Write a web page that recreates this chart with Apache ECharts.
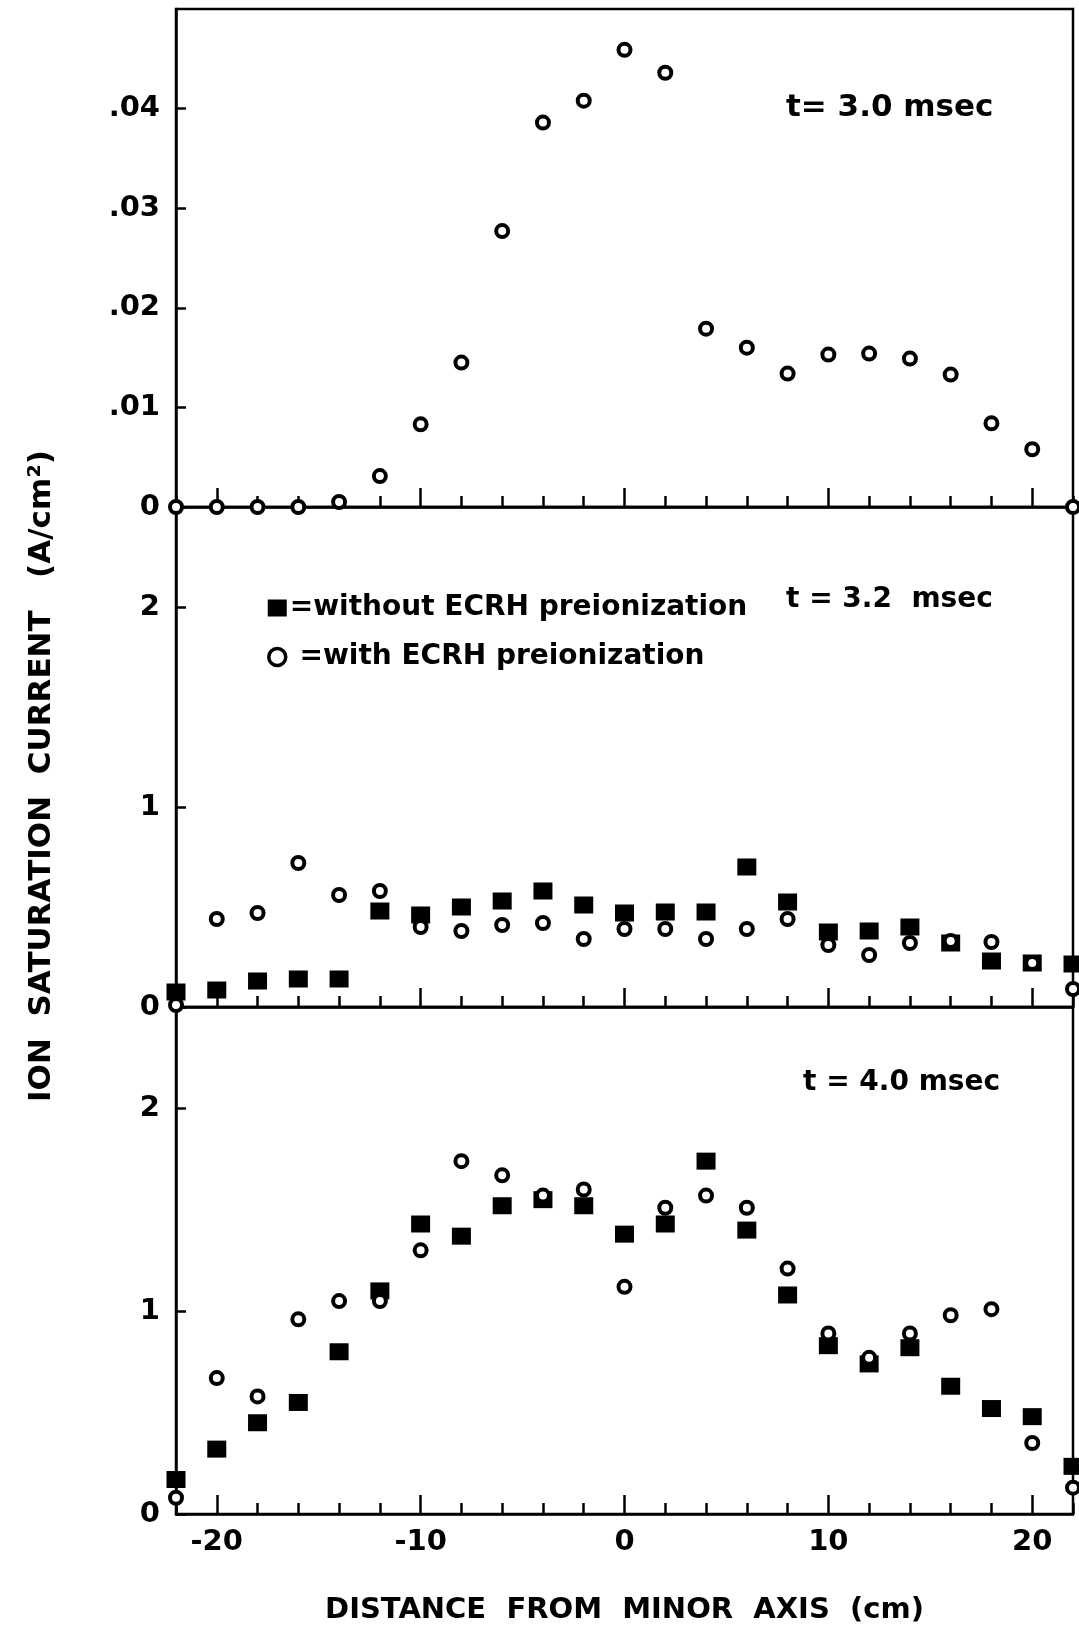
<!DOCTYPE html>
<html><head><meta charset="utf-8">
<script src="https://cdn.jsdelivr.net/npm/echarts@6/dist/echarts.min.js"></script>
<style>html,body{margin:0;padding:0;background:#fff}#c{width:1079px;height:1628px}</style>
</head><body><div id="c"></div>
<script>
// Distance from minor axis (cm)
const positions = [-22,-20,-18,-16,-14,-12,-10,-8,-6,-4,-2,0,2,4,6,8,10,12,14,16,18,20,22];
// t = 3.0 msec, with ECRH preionization (A/cm^2)
const t30_with = [0,0,0,0,0.0005,0.0031,0.0083,0.0145,0.0277,0.0386,0.0408,0.0459,0.0436,0.0179,0.0160,0.0134,0.0153,0.0154,0.0149,0.0133,0.0084,0.0058,0];
// t = 3.2 msec
const t32_without = [0.075,0.085,0.13,0.14,0.14,0.48,0.46,0.50,0.53,0.58,0.51,0.47,0.475,0.475,0.70,0.525,0.375,0.38,0.40,0.32,0.23,0.22,0.215];
const t32_with = [0.01,0.44,0.47,0.72,0.56,0.58,0.40,0.38,0.41,0.42,0.34,0.39,0.39,0.34,0.39,0.44,0.31,0.26,0.32,0.33,0.325,0.22,0.09];
// t = 4.0 msec
const t40_without = [0.17,0.32,0.45,0.55,0.80,1.10,1.43,1.37,1.52,1.55,1.52,1.38,1.43,1.74,1.40,1.08,0.83,0.74,0.82,0.63,0.52,0.48,0.235];
const t40_with = [0.08,0.67,0.58,0.96,1.05,1.05,1.30,1.74,1.67,1.57,1.60,1.12,1.51,1.57,1.51,1.21,0.89,0.77,0.89,0.98,1.01,0.35,0.13];
// tick labels
const xMajorTicks = [-20,-10,0,10,20];
const yTicksTop = [0,0.01,0.02,0.03,0.04];
const yTicksLower = [0,1,2];
const panelTimes = ['t= 3.0 msec','t = 3.2  msec','t = 4.0 msec'];
const nameWithout = 'without ECRH preionization';
const nameWith = 'with ECRH preionization';

const pairs = vals => positions.map((x,i)=>[x, vals[i]]);
const FONT = '"DejaVu Sans", sans-serif';
const BLACK = '#000';
const LW = 2.5;

const grids = [
  {left:176, width:897, top:9, height:498},
  {left:176, width:897, top:507, height:500},
  {left:176, width:897, top:1007, height:507}
].map(g => Object.assign(g, {show:true, outerBoundsMode:'none', containLabel:false, borderColor:BLACK, borderWidth:LW, backgroundColor:'transparent'}));

const xAxes = [];
for (let i=0;i<3;i++){
  xAxes.push({gridIndex:i, type:'value', position:'bottom', min:-22, max:22, interval:2,
    axisLine:{show:true, onZero:false, lineStyle:{color:BLACK, width:LW}},
    axisTick:{show:true, inside:true, length:11, lineStyle:{color:BLACK, width:LW}},
    axisLabel:{show:false}, splitLine:{show:false}});
  xAxes.push({gridIndex:i, type:'value', position:'bottom', offset:0, min:-22, max:22, interval:2,
    axisLine:{show:false, onZero:false},
    axisTick:{show:true, inside:true, length:19, customValues:xMajorTicks, lineStyle:{color:BLACK, width:LW}},
    axisLabel:{show:i===2, customValues:xMajorTicks, color:BLACK, fontFamily:FONT, fontWeight:'bold', fontSize:29, margin:14},
    splitLine:{show:false},
    name: i===2 ? 'DISTANCE  FROM  MINOR  AXIS  (cm)' : '',
    nameLocation:'middle', nameGap:82,
    nameTextStyle:{color:BLACK, fontFamily:FONT, fontWeight:'bold', fontSize:29}});
}

const yLabelStyle = {color:BLACK, fontFamily:FONT, fontWeight:'bold', fontSize:29, margin:16};
const yAxes = [
  {gridIndex:0, type:'value', position:'left', min:0, max:0.05,
    axisLine:{show:true, onZero:false, lineStyle:{color:BLACK, width:LW}},
    axisTick:{show:true, inside:true, length:10, customValues:yTicksTop, lineStyle:{color:BLACK, width:LW}},
    axisLabel:Object.assign({customValues:yTicksTop, formatter: v => v===0 ? '0' : '.' + v.toFixed(2).split('.')[1]}, yLabelStyle),
    splitLine:{show:false}},
  {gridIndex:1, type:'value', position:'left', min:0, max:2.5,
    axisLine:{show:true, onZero:false, lineStyle:{color:BLACK, width:LW}},
    axisTick:{show:true, inside:true, length:10, customValues:yTicksLower, lineStyle:{color:BLACK, width:LW}},
    axisLabel:Object.assign({customValues:yTicksLower}, yLabelStyle),
    splitLine:{show:false}},
  {gridIndex:2, type:'value', position:'left', min:0, max:2.5,
    axisLine:{show:true, onZero:false, lineStyle:{color:BLACK, width:LW}},
    axisTick:{show:true, inside:true, length:10, customValues:yTicksLower, lineStyle:{color:BLACK, width:LW}},
    axisLabel:Object.assign({customValues:yTicksLower}, yLabelStyle),
    splitLine:{show:false}}
];

const sq = (gi, vals) => ({type:'scatter', name:nameWithout, xAxisIndex:gi*2, yAxisIndex:gi, data:pairs(vals),
  symbol:'rect', symbolSize:[19,17], itemStyle:{color:BLACK, opacity:1}, z:2, clip:false, silent:true});
const ci = (gi, vals) => ({type:'scatter', name:nameWith, xAxisIndex:gi*2, yAxisIndex:gi, data:pairs(vals),
  symbol:'circle', symbolSize:12, itemStyle:{color:'#fff', borderColor:BLACK, borderWidth:4, opacity:1}, z:3, clip:false, silent:true});

const annStyle = {fontFamily:'"DejaVu Sans", sans-serif', fontWeight:'bold', fontSize:28, fill:BLACK, textVerticalAlign:'middle'};

const option = {
  backgroundColor:'#fff',
  animation:false,
  grid:grids,
  xAxis:xAxes,
  yAxis:yAxes,
  legend:{show:true, orient:'vertical', left:262, top:589, itemGap:21, itemWidth:19, itemHeight:17,
    data:[
      {name:nameWithout, icon:'rect', itemStyle:{color:BLACK, opacity:1}},
      {name:nameWith, icon:'circle', itemStyle:{color:'#fff', borderColor:BLACK, borderWidth:3.5, opacity:1}}
    ],
    formatter: n => (n === nameWith ? ' =' : '=') + n,
    textStyle:{color:BLACK, fontFamily:FONT, fontSize:28, fontWeight:'bold', padding:[0,0,0,-2]},
    selectedMode:false},
  series:[
    ci(0, t30_with),
    sq(1, t32_without), ci(1, t32_with),
    sq(2, t40_without), ci(2, t40_with)
  ],
  graphic:[
    {type:'text', x:42, y:776, rotation:Math.PI/2, style:{text:'ION  SATURATION  CURRENT   (A/cm\u00B2)', fontFamily:'"DejaVu Sans", sans-serif', fontWeight:'bold', fontSize:31, fill:BLACK, textAlign:'center', textVerticalAlign:'middle'}},
    {type:'text', x:786, y:108, style:Object.assign({text:panelTimes[0]}, annStyle, {fontSize:31})},
    {type:'text', x:786, y:600, style:Object.assign({text:panelTimes[1]}, annStyle)},
    {type:'text', x:803, y:1083, style:Object.assign({text:panelTimes[2]}, annStyle)}
  ]
};
const chart = echarts.init(document.getElementById('c'), null, {renderer:'canvas'});
chart.setOption(option);
</script></body></html>
